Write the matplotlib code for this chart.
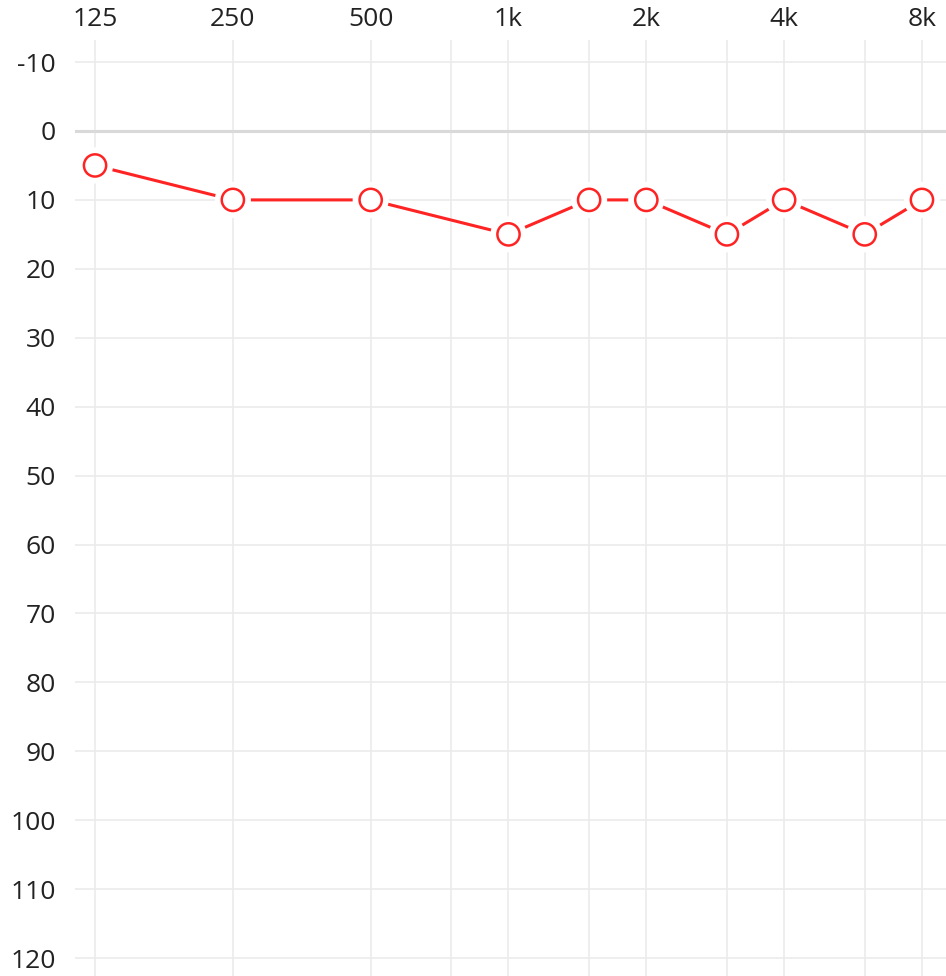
import matplotlib
matplotlib.use("Agg")
import matplotlib.pyplot as plt
import matplotlib.patheffects as pe

# audiogram data (Hz, dB HL)
freqs = [125, 250, 500, 1000, 1500, 2000, 3000, 4000, 6000, 8000]
levels = [5, 10, 10, 15, 10, 10, 15, 10, 15, 10]

major_freqs = [125, 250, 500, 1000, 2000, 4000, 8000]
major_labels = ["125", "250", "500", "1k", "2k", "4k", "8k"]
minor_freqs = [750, 1500, 3000, 6000]
db_ticks = list(range(-10, 130, 10))

plt.rcParams["font.family"] = ["Open Sans", "DejaVu Sans"]

fig = plt.figure(figsize=(9.46, 9.76), dpi=100)
ax = fig.add_axes([75 / 946, 0, 1 - 75 / 946, 1 - 40 / 976])

ax.set_xscale("log")
ax.set_xlim(125 * 2 ** (-20 / 137.5), 8000 * 2 ** (24 / 137.5))
ax.set_ylim(122.6, -13.2)

ax.set_xticks(major_freqs)
ax.set_xticklabels(major_labels)
ax.set_xticks(minor_freqs, minor=True)
ax.set_xticklabels([], minor=True)
ax.set_yticks(db_ticks)
ax.set_yticklabels([str(t) for t in db_ticks])

ax.xaxis.tick_top()
ax.tick_params(axis="both", which="both", length=0, labelsize=19, labelcolor="#222222")
ax.tick_params(axis="x", pad=6)
ax.tick_params(axis="y", pad=14)

for s in ax.spines.values():
    s.set_visible(False)

ax.grid(True, which="both", color="#ebebeb", linewidth=1.2)
ax.axhline(0, color="#d9d9d9", linewidth=2.2, zorder=1)
ax.set_axisbelow(True)

red = "#ff2424"
ax.plot(freqs, levels, color=red, linewidth=2.2, zorder=2)
ax.plot(freqs, levels, linestyle="none", marker="o", markersize=16,
        markerfacecolor="white", markeredgecolor=red, markeredgewidth=1.8,
        zorder=3,
        path_effects=[pe.Stroke(linewidth=10, foreground="white"), pe.Normal()])

fig.savefig("out.png", dpi=100)
